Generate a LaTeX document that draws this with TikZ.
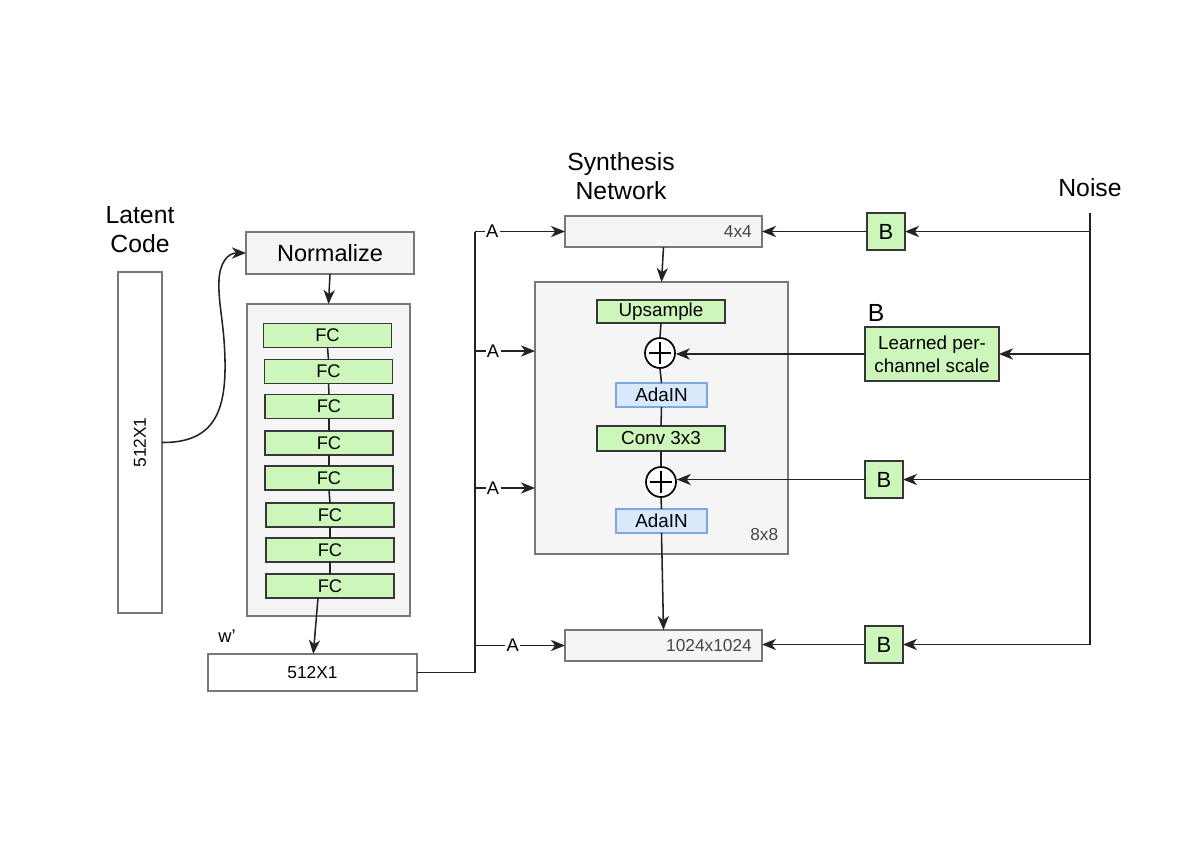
\documentclass[tikz,border=0pt]{standalone}
\usepackage{fontspec}
\setmainfont{Liberation Sans}
\usetikzlibrary{arrows.meta,calc}
\definecolor{gfill}{RGB}{205,246,186}
\definecolor{gline}{RGB}{55,55,55}
\definecolor{bfill}{RGB}{218,232,252}
\definecolor{bline}{RGB}{126,166,224}
\definecolor{pfill}{RGB}{245,245,245}
\definecolor{pline}{RGB}{120,120,120}
\definecolor{wline}{RGB}{35,35,35}
\definecolor{gtxt}{RGB}{70,70,70}
\tikzset{
  sz/.style 2 args={minimum width=#1*0.025cm, minimum height=#2*0.025cm},
  base/.style={inner sep=0pt, outer sep=0pt, rectangle},
  graybox/.style={base, draw=pline, fill=pfill, line width=1.4pt},
  whitebox/.style={base, draw=pline, fill=white, line width=1.4pt},
  greenbox/.style={base, draw=gline, fill=gfill, line width=1.2pt},
  bluebox/.style={base, draw=bline, fill=bfill, line width=1.1pt},
  titletxt/.style={align=center, font=\fontsize{17.6}{20.5}\selectfont, inner sep=0pt},
  midtxt/.style={font=\fontsize{13.4}{16}\selectfont},
  smalltxt/.style={font=\fontsize{12.3}{14}\selectfont},
  alabel/.style={fill=white, inner sep=1pt, font=\fontsize{13}{14}\selectfont},
  arr/.style={-{Stealth[length=10pt,width=8pt,inset=3pt]}},
  conn/.style={draw=wline, line width=1.1pt},
  plusnode/.style={circle, draw=black, fill=white, line width=1.2pt, minimum size=30*0.025cm, inner sep=0pt,
    path picture={\draw[line width=1.8pt] ($(path picture bounding box.center)+(-0.27cm,0)$) -- ($(path picture bounding box.center)+(0.27cm,0)$);
                  \draw[line width=1.8pt] ($(path picture bounding box.center)+(0,-0.27cm)$) -- ($(path picture bounding box.center)+(0,0.27cm)$);}},
}
\begin{document}
\begin{tikzpicture}[x=0.025cm,y=-0.025cm]
\useasboundingbox (0,0) rectangle (1204,861);

% ---- Mapping network ----
\node[titletxt] (lt) at (140,230) {Latent\\Code};
\node[whitebox, sz={44}{341}] (lat) at (140,442.5) {};
\node[smalltxt, rotate=90] (latlbl) at (lat.center) {512X1};

\node[graybox, sz={168}{42}, font=\fontsize{16.7}{18}\selectfont] (norm) at (330,253) {Normalize};
\node[graybox, sz={163}{312}] (map) at (328.5,460) {};

\foreach \i/\y/\x in {1/335.5/327.5,2/371.5/328.5,3/406.5/329,4/443/329,5/478/329,6/515/330,7/550/330,8/586/330}{
  \node[greenbox, sz={128}{24}, font=\fontsize{13}{14}\selectfont] (fc\i) at (\x,\y) {FC};
}
\foreach \a/\b in {1/2,2/3,3/4,4/5,5/6,6/7,7/8}{
  \draw[conn] (fc\a.south) -- (fc\b.north);
}

\node[font=\fontsize{13}{14}\selectfont, inner sep=0pt] (wlbl) at (227,636) {w'};
\node[whitebox, sz={209}{37}, smalltxt] (wbox) at (312.5,672.5) {512X1};

\draw[conn] (lat.east) .. controls (215,443) and (226,410) .. (225,360)
   .. controls (224,320) and (218,305) .. (219,280)
   .. controls (220,262) and (228,253) .. (norm.west) [arr];
\draw[conn, arr] (norm.south) -- (map.north);
\draw[conn, arr] ([xshift=-0.3cm]fc8.south) -- ([xshift=0.02cm]wbox.north);

% ---- Synthesis network ----
\node[titletxt] (syn) at (621,176) {Synthesis\\Network};
\node[graybox, sz={197}{31}] (b4) at (663.5,231.5) {};
\node[smalltxt, text=gtxt, anchor=east] (b4lbl) at ([xshift=-0.13cm]b4.east) {4x4};

\node[graybox, sz={253}{272}] (s8) at (661.5,418) {};
\node[smalltxt, text=gtxt, anchor=south east] (s8lbl) at ([xshift=-0.12cm,yshift=0.2cm]s8.south east) {8x8};

\node[greenbox, sz={128}{23}, midtxt] (ups) at (661,311.5) {Upsample};
\node[plusnode] (p1) at (660,353) {};
\node[bluebox, sz={91}{24}, midtxt] (ada1) at (661.5,395) {AdaIN};
\node[greenbox, sz={128}{25}, midtxt] (conv) at (661,438.5) {Conv 3x3};
\node[plusnode] (p2) at (661,482) {};
\node[bluebox, sz={91}{24}, midtxt] (ada2) at (661.5,521) {AdaIN};

\node[graybox, sz={197}{31}] (b1024) at (663.5,645.5) {};
\node[smalltxt, text=gtxt, anchor=east] (b1024lbl) at ([xshift=-0.13cm]b1024.east) {1024x1024};

\draw[conn, arr] (b4.south) -- (s8.north);
\draw[conn] (ups.south) -- (p1.north);
\draw[conn] (p1.south) -- (ada1.north);
\draw[conn] (ada1.south) -- (conv.north);
\draw[conn] (conv.south) -- (p2.north);
\draw[conn] (p2.south) -- (ada2.north);
\draw[conn, arr] (ada2.south) -- (b1024.north);

% ---- A bus ----
\coordinate (ja1) at (475,231.5);
\coordinate (ja2) at (475,351);
\coordinate (ja3) at (475,488);
\coordinate (ja4) at (475,645.5);
\draw[conn] (wbox.east) -| (ja1);
\draw[conn, arr] (ja1) -- node[alabel, pos=0.19] (a1) {A} (b4.west);
\draw[conn, arr] (ja2) -- node[alabel, pos=0.3] (a2) {A} (ja2 -| s8.west);
\draw[conn, arr] (ja3) -- node[alabel, pos=0.3] (a3) {A} (ja3 -| s8.west);
\draw[conn, arr] (ja4) -- node[alabel, pos=0.42] (a4) {A} (b1024.west);

% ---- Noise ----
\node[titletxt] (noise) at (1090,188) {Noise};
\coordinate (nb) at (1090,644.5);
\node[greenbox, sz={38}{37}, font=\fontsize{15.6}{17}\selectfont] (B1) at (886,231.5) {B};
\node[font=\fontsize{17.6}{19}\selectfont, inner sep=0pt] (Blbl) at (876,313) {B};
\node[greenbox, sz={134}{54}, align=center, font=\fontsize{13.4}{16.5}\selectfont] (learn) at (932,354) {Learned per-\\channel scale};
\node[greenbox, sz={38}{37}, font=\fontsize{15.6}{17}\selectfont] (B2) at (884,479.5) {B};
\node[greenbox, sz={38}{37}, font=\fontsize{15.6}{17}\selectfont] (B3) at (884,644.5) {B};

\draw[conn] ([yshift=-0.38cm]noise.south) -- (nb);
\draw[conn, arr] (B1.east -| nb) -- (B1.east);
\draw[conn, arr] (learn.east -| nb) -- (learn.east);
\draw[conn, arr] (B2.east -| nb) -- (B2.east);
\draw[conn, arr] (nb) -- (B3.east);

\draw[conn, arr] (B1.west) -- (b4.east);
\draw[conn, arr] (learn.west) -- (learn.west -| p1.east);
\draw[conn, arr] (B2.west) -- (B2.west -| p2.east);
\draw[conn, arr] (B3.west) -- (B3.west -| b1024.east);
\end{tikzpicture}
\end{document}
